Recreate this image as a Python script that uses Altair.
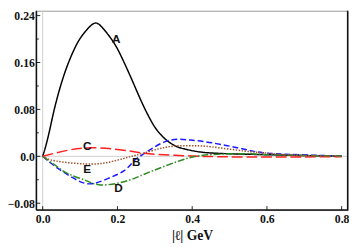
import altair as alt
import pandas as pd

# Curve data
a_x = [0, 0.008, 0.017, 0.026, 0.039, 0.061, 0.087, 0.108, 0.134, 0.156, 0.187, 0.209, 0.235, 0.261, 0.287, 0.313, 0.348, 0.383, 0.42, 0.47, 0.55, 0.65, 0.8]
a_y = [0, 0.017, 0.04, 0.066, 0.1, 0.146, 0.186, 0.208, 0.2255, 0.222, 0.197, 0.172, 0.136, 0.098, 0.064, 0.039, 0.02, 0.012, 0.0075, 0.005, 0.0035, 0.002, 0.0]

b_x = [0, 0.035, 0.079, 0.125, 0.174, 0.218, 0.244, 0.27, 0.33, 0.39, 0.453, 0.54, 0.59, 0.67, 0.8]
b_y = [0, -0.018, -0.036, -0.047, -0.038, -0.0245, -0.008, 0.004, 0.0255, 0.028, 0.023, 0.012, 0.006, 0.003, 0.0005]

c_x = [0, 0.069, 0.131, 0.2, 0.262, 0.31, 0.4, 0.45, 0.54, 0.65, 0.8]
c_y = [0, 0.0105, 0.0145, 0.0117, 0.006, 0.003, 0.0005, -0.0005, -0.0012, -0.0012, -0.0008]

d_x = [0, 0.035, 0.069, 0.114, 0.15, 0.2, 0.244, 0.27, 0.33, 0.39, 0.453, 0.54, 0.59, 0.7, 0.8]
d_y = [0, -0.016, -0.03, -0.041, -0.0485, -0.046, -0.038, -0.031, -0.016, -0.003, 0.003, 0.0045, 0.003, 0.0015, 0.0005]

e_x = [0, 0.035, 0.114, 0.174, 0.226, 0.25, 0.29, 0.33, 0.37, 0.41, 0.453, 0.54, 0.59, 0.67, 0.8]
e_y = [0, -0.008, -0.013, -0.0105, -0.002, 0.002, 0.009, 0.0155, 0.018, 0.018, 0.016, 0.009, 0.006, 0.002, 0.0003]

series = ["A", "B", "C", "D", "E"]
colors = ["#000000", "#1a1aff", "#ff2020", "#2e8b22", "#a0522d"]
dashes = [[1, 0], [6, 3], [11, 4], [7, 2, 1.5, 2], [1.5, 1.5]]

# Curve label positions
lab_text = ["A", "B", "C", "D", "E"]
lab_x = [0.197, 0.25, 0.119, 0.203, 0.119]
lab_y = [0.2, -0.01, 0.018, -0.055, -0.022]

y_major = [-0.08, 0.0, 0.08, 0.16, 0.24]
y_minor = [-0.04, 0.04, 0.12, 0.2]
x_major = [0.0, 0.2, 0.4, 0.6, 0.8]

XD = [-0.017, 0.817]
YD = [-0.0917, 0.2483]
W, H = 319, 204

rows = []
for name, xs, ys in zip(series, [a_x, b_x, c_x, d_x, e_x], [a_y, b_y, c_y, d_y, e_y]):
    for i, (xv, yv) in enumerate(zip(xs, ys)):
        rows.append({"s": name, "x": xv, "y": yv, "o": i})
df = pd.DataFrame(rows)

xs = alt.Scale(domain=XD, nice=False, zero=False)
ys = alt.Scale(domain=YD, nice=False, zero=False)

serif = "Liberation Serif"

xaxis = alt.Axis(values=x_major, labelExpr="format(datum.value, '.1f')", labelPadding=4,
                 title="|ℓ| GeV", titleFontSize=14, titlePadding=4)
yaxis = alt.Axis(values=y_major,
                 labelExpr="datum.value == 0 ? '0.0' : replace(format(datum.value, '.2f'), '-', '−')",
                 labelPadding=2, title=None)

base_x = alt.X("x:Q", scale=xs, axis=xaxis)
base_y = alt.Y("y:Q", scale=ys, axis=yaxis)

grid_v = alt.Chart(pd.DataFrame({"x": [0.0]})).mark_rule(color="#cfcfcf", strokeWidth=1).encode(
    x=alt.X("x:Q", scale=xs, axis=xaxis))
grid_h = alt.Chart(pd.DataFrame({"y": [0.0]})).mark_rule(color="#cfcfcf", strokeWidth=1).encode(
    y=alt.Y("y:Q", scale=ys, axis=yaxis))

lines = alt.Chart(df).mark_line(strokeWidth=1.5, interpolate="natural").encode(
    x=base_x, y=base_y, order="o:Q",
    color=alt.Color("s:N", scale=alt.Scale(domain=series, range=colors), legend=None),
    strokeDash=alt.StrokeDash("s:N", scale=alt.Scale(domain=series, range=dashes), legend=None),
)

labels = alt.Chart(pd.DataFrame({"t": lab_text, "x": lab_x, "y": lab_y})).mark_text(
    font="Liberation Sans", fontWeight="bold", fontSize=12, color="#111").encode(
    x=alt.X("x:Q", scale=xs, axis=xaxis), y=alt.Y("y:Q", scale=ys, axis=yaxis), text="t:N")

ytick_major = alt.Chart(pd.DataFrame({"y": y_major})).mark_rule(color="#222", strokeWidth=1).encode(
    y=alt.Y("y:Q", scale=ys, axis=yaxis), x=alt.value(0), x2=alt.value(4))
ytick_minor = alt.Chart(pd.DataFrame({"y": y_minor})).mark_rule(color="#222", strokeWidth=1).encode(
    y=alt.Y("y:Q", scale=ys, axis=yaxis), x=alt.value(0), x2=alt.value(2.5))
xtick_major = alt.Chart(pd.DataFrame({"x": x_major})).mark_rule(color="#222", strokeWidth=1).encode(
    x=alt.X("x:Q", scale=xs, axis=xaxis), y=alt.value(H), y2=alt.value(H - 4))

frame_l = alt.Chart(pd.DataFrame({"v": [0]})).mark_rule(color="#111", strokeWidth=1.5).encode(
    x=alt.value(0), y=alt.value(0), y2=alt.value(H))
frame_b = alt.Chart(pd.DataFrame({"v": [0]})).mark_rule(color="#111", strokeWidth=1.5).encode(
    x=alt.value(0), x2=alt.value(W), y=alt.value(H))
frame_r = alt.Chart(pd.DataFrame({"v": [0]})).mark_rule(color="#111", strokeWidth=1.3).encode(
    x=alt.value(W - 0.5), y=alt.value(0), y2=alt.value(H))

chart = alt.layer(
    grid_v, grid_h, lines, labels, ytick_major, ytick_minor, xtick_major, frame_l, frame_b, frame_r
).properties(
    width=W, height=H,
    autosize=alt.AutoSizeParams(type="none"),
    padding={"left": 29, "top": 0, "right": 1, "bottom": 35},
).configure_view(stroke="#999", strokeWidth=1).configure_axis(
    tickSize=0, domain=False, grid=False,
    labelFont=serif, labelFontWeight="bold", labelFontSize=12, labelColor="#111",
    titleFont=serif, titleFontWeight="bold", titleColor="#111",
)

chart.save("out.html", embed_options={"renderer": "svg", "actions": False})
